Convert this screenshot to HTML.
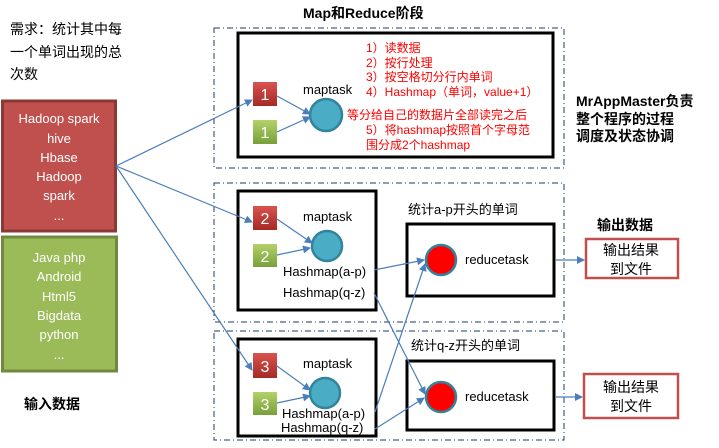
<!DOCTYPE html>
<html><head><meta charset="utf-8"><style>
body{margin:0;background:#fff;width:719px;height:443px;overflow:hidden}
text{font-family:"Liberation Sans","Noto Sans CJK SC",sans-serif}
</style></head><body>
<svg width="719" height="443" viewBox="0 0 719 443" xmlns="http://www.w3.org/2000/svg">
<defs>
<marker id="a" markerWidth="8" markerHeight="8" refX="7" refY="4" orient="auto" markerUnits="userSpaceOnUse"><path d="M0,0 L8,4 L0,8 z" fill="#4a7ebb"/></marker>
<linearGradient id="r" x1="0" y1="0" x2="0" y2="1"><stop offset="0" stop-color="#d9534f"/><stop offset="1" stop-color="#a42a26"/></linearGradient>
<linearGradient id="g" x1="0" y1="0" x2="0" y2="1"><stop offset="0" stop-color="#b4d16a"/><stop offset="1" stop-color="#77a03a"/></linearGradient>
</defs>
<text x="10" y="34" font-size="14">需求：统计其中每</text>
<text x="10" y="57" font-size="14">一个单词出现的总</text>
<text x="10" y="79" font-size="14">次数</text>
<rect x="2.5" y="101" width="113" height="130" fill="#c0504d" stroke="#8c3836" stroke-width="3"/>
<g fill="#fff" font-size="13" text-anchor="middle">
<text x="59" y="123">Hadoop spark</text><text x="59" y="143">hive</text><text x="59" y="162">Hbase</text><text x="59" y="181">Hadoop</text><text x="59" y="200">spark</text><text x="59" y="220">...</text>
</g>
<rect x="2.5" y="237" width="114" height="134" fill="#9bbb59" stroke="#71893f" stroke-width="3"/>
<g fill="#fff" font-size="13" text-anchor="middle">
<text x="59" y="262">Java php</text><text x="59" y="281">Android</text><text x="59" y="301">Html5</text><text x="59" y="320">Bigdata</text><text x="59" y="339">python</text><text x="59" y="359">...</text>
</g>
<text x="24" y="409" font-size="14" font-weight="bold">输入数据</text>
<text x="303" y="18" font-size="14" font-weight="bold">Map和Reduce阶段</text>
<g fill="none" stroke="#1f3864" stroke-dasharray="6,3,1,3" stroke-width="1">
<rect x="214" y="28" width="350" height="140"/>
<rect x="214" y="183" width="350" height="139"/>
<rect x="214" y="331" width="350" height="109"/>
</g>
<g fill="none" stroke="#000" stroke-width="3">
<rect x="238" y="33" width="315" height="124"/>
<rect x="238" y="191" width="138" height="119"/>
<rect x="238" y="339" width="138" height="97"/>
<rect x="407" y="224" width="147" height="72"/>
<rect x="407" y="361" width="147" height="69"/>
</g>
<g font-size="16" fill="#fff" text-anchor="middle">
<rect x="253" y="82" width="24" height="24" fill="url(#r)"/><text x="265" y="100">1</text>
<rect x="253" y="120" width="24" height="24" fill="url(#g)"/><text x="265" y="138">1</text>
<rect x="253" y="206" width="24" height="24" fill="url(#r)"/><text x="265" y="224">2</text>
<rect x="253" y="244" width="24" height="23" fill="url(#g)"/><text x="265" y="262">2</text>
<rect x="253" y="353" width="24" height="25" fill="url(#r)"/><text x="265" y="372">3</text>
<rect x="253" y="392" width="24" height="23" fill="url(#g)"/><text x="265" y="410">3</text>
</g>
<g fill="#4bacc6" stroke="#31849b" stroke-width="2.5">
<circle cx="326" cy="115" r="16"/><circle cx="327" cy="246" r="15"/><circle cx="325" cy="393" r="15"/>
</g>
<g fill="#ff0000" stroke="#31849b" stroke-width="2.5">
<circle cx="441" cy="260" r="15"/><circle cx="441" cy="397" r="15"/>
</g>
<g font-size="13">
<text x="303" y="94">maptask</text><text x="303" y="221">maptask</text><text x="303" y="368">maptask</text>
<text x="465" y="264">reducetask</text><text x="465" y="401">reducetask</text>
<text x="283" y="276">Hashmap(a-p)</text><text x="283" y="297">Hashmap(q-z)</text>
<text x="282" y="418">Hashmap(a-p)</text><text x="281" y="432">Hashmap(q-z)</text>
<text x="408" y="214">统计a-p开头的单词</text><text x="411" y="350">统计q-z开头的单词</text>
</g>
<g fill="#ff0000" font-size="12">
<text x="366" y="52">1）读数据</text><text x="366" y="67">2）按行处理</text><text x="366" y="81">3）按空格切分行内单词</text><text x="366" y="96">4）Hashmap（单词，value+1）</text>
<text x="347" y="119">等分给自己的数据片全部读完之后</text><text x="366" y="134">5）将hashmap按照首个字母范</text><text x="366" y="149">围分成2个hashmap</text>
</g>
<text x="576" y="106" font-size="14" font-weight="bold" font-family="Liberation Serif,Noto Serif CJK SC,serif">MrAppMaster负责</text>
<text x="576" y="124" font-size="14" font-weight="bold">整个程序的过程</text>
<text x="576" y="141" font-size="14" font-weight="bold">调度及状态协调</text>
<text x="597" y="230" font-size="14" font-weight="bold">输出数据</text>
<rect x="586" y="239" width="92" height="39" fill="none" stroke="#c0504d" stroke-width="2.5"/>
<rect x="584" y="374" width="94" height="44" fill="none" stroke="#c0504d" stroke-width="2.5"/>
<g font-size="14" text-anchor="middle"><text x="631" y="255">输出结果</text><text x="631" y="274">到文件</text><text x="631" y="392">输出结果</text><text x="631" y="411">到文件</text></g>
<g stroke="#4a7ebb" stroke-width="1.2" fill="none" marker-end="url(#a)">
<line x1="116" y1="166" x2="252" y2="100"/>
<line x1="116" y1="166" x2="252" y2="222"/>
<line x1="116" y1="166" x2="252" y2="370"/>
<line x1="277" y1="96" x2="310" y2="114"/>
<line x1="277" y1="132" x2="310" y2="117"/>
<line x1="277" y1="219" x2="312" y2="243"/>
<line x1="277" y1="255" x2="310" y2="248"/>
<line x1="277" y1="366" x2="310" y2="390"/>
<line x1="277" y1="403" x2="310" y2="396"/>
<line x1="374" y1="270" x2="424" y2="260"/>
<line x1="374" y1="293" x2="425" y2="394"/>
<line x1="375" y1="412" x2="425" y2="264"/>
<line x1="375" y1="429" x2="424" y2="398"/>
<line x1="555" y1="260" x2="584" y2="260"/>
<line x1="555" y1="397" x2="582" y2="397"/>
</g>
</svg>
</body></html>
